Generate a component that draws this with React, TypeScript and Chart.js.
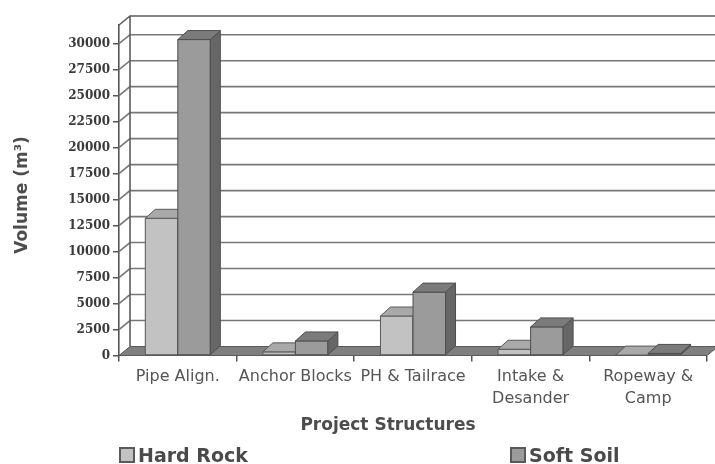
import { useEffect, useRef } from 'react';
import { Chart, registerables } from 'chart.js';

Chart.register(...registerables);

// Excavation volumes per project structure (m³)
const categories: (string | string[])[] = [
  'Pipe Align.',
  'Anchor Blocks',
  'PH & Tailrace',
  ['Intake &', 'Desander'],
  ['Ropeway &', 'Camp'],
];
const hardRock = [13200, 350, 3800, 600, 40];
const softSoil = [30400, 1400, 6100, 2750, 200];
const seriesNames = ['Hard Rock', 'Soft Soil'];
const yTickValues = [0, 2500, 5000, 7500, 10000, 12500, 15000, 17500, 20000, 22500, 25000, 27500, 30000];
const yMax = 31800;

const xTitle = 'Project Structures';
const yTitle = 'Volume (m³)';

// Depth of the 3D box (walls) and of the columns, in pixels
const WALL_DX = 11;
const WALL_DY = -9;
const BAR_DX = 10;
const BAR_DY = -9;

const palette = [
  { front: '#c2c2c2', top: '#a9a9a9', side: '#7c7c7c', edge: '#5a5a5a' },
  { front: '#9b9b9b', top: '#7b7b7b', side: '#666666', edge: '#4f4f4f' },
];

const wallPlugin = {
  id: 'wall3d',
  beforeDatasetsDraw(chart: any) {
    const { ctx, chartArea } = chart;
    const y = chart.scales.y;
    const left = chartArea.left;
    const right = chartArea.right;
    const yTop = y.getPixelForValue(yMax);
    const yZero = y.getPixelForValue(0);
    ctx.save();
    // back wall gridlines
    ctx.strokeStyle = '#777777';
    ctx.lineWidth = 1.6;
    for (const v of yTickValues) {
      if (v === 0) continue;
      const py = y.getPixelForValue(v);
      ctx.beginPath();
      ctx.moveTo(left, py);
      ctx.lineTo(left + WALL_DX, py + WALL_DY);
      ctx.lineTo(right + WALL_DX, py + WALL_DY);
      ctx.stroke();
    }
    // wall outline
    ctx.strokeStyle = '#5c5c5c';
    ctx.lineWidth = 1.6;
    ctx.beginPath();
    ctx.moveTo(left, yTop);
    ctx.lineTo(left + WALL_DX, yTop + WALL_DY);
    ctx.lineTo(right + WALL_DX, yTop + WALL_DY);
    ctx.moveTo(left + WALL_DX, yTop + WALL_DY);
    ctx.lineTo(left + WALL_DX, yZero + WALL_DY);
    ctx.stroke();
    // floor
    ctx.fillStyle = '#7f7f7f';
    ctx.strokeStyle = '#5a5a5a';
    ctx.lineWidth = 1;
    ctx.beginPath();
    ctx.moveTo(left, yZero);
    ctx.lineTo(right, yZero);
    ctx.lineTo(right + WALL_DX, yZero + WALL_DY);
    ctx.lineTo(left + WALL_DX, yZero + WALL_DY);
    ctx.closePath();
    ctx.fill();
    ctx.stroke();
    ctx.restore();
  },
  afterDatasetsDraw(chart: any) {
    const { ctx } = chart;
    const metas = [chart.getDatasetMeta(0), chart.getDatasetMeta(1)];
    ctx.save();
    ctx.lineWidth = 1;
    ctx.lineJoin = 'round';
    const n = categories.length;
    for (let j = 0; j < n; j++) {
      metas.forEach((meta: any, i: number) => {
        const el = meta.data[j];
        if (!el) return;
        const { x, y, base, width } = el.getProps(['x', 'y', 'base', 'width'], true);
        const c = palette[i];
        const l = x - width / 2;
        const r = x + width / 2;
        ctx.strokeStyle = c.edge;
        // front face
        ctx.fillStyle = c.front;
        ctx.beginPath();
        ctx.rect(l, y, width, base - y);
        ctx.fill();
        ctx.stroke();
        // side face
        ctx.fillStyle = c.side;
        ctx.beginPath();
        ctx.moveTo(r, y);
        ctx.lineTo(r + BAR_DX, y + BAR_DY);
        ctx.lineTo(r + BAR_DX, base + BAR_DY);
        ctx.lineTo(r, base);
        ctx.closePath();
        ctx.fill();
        ctx.stroke();
        // top face
        ctx.fillStyle = c.top;
        ctx.beginPath();
        ctx.moveTo(l, y);
        ctx.lineTo(l + BAR_DX, y + BAR_DY);
        ctx.lineTo(r + BAR_DX, y + BAR_DY);
        ctx.lineTo(r, y);
        ctx.closePath();
        ctx.fill();
        ctx.stroke();
      });
    }
    ctx.restore();
  },
  afterDraw(chart: any) {
    const { ctx } = chart;
    ctx.save();
    ctx.fillStyle = '#4d4d4d';
    ctx.textAlign = 'center';
    ctx.textBaseline = 'alphabetic';
    // axis titles
    ctx.font = 'bold 17px "DejaVu Sans"';
    ctx.fillText(xTitle, 388, 430);
    ctx.save();
    ctx.translate(27, 195);
    ctx.rotate(-Math.PI / 2);
    ctx.fillText(yTitle, 0, 0);
    ctx.restore();
    // legend
    const items = [
      { x: 119, c: palette[0] },
      { x: 510, c: palette[1] },
    ];
    ctx.font = 'bold 19px "DejaVu Sans"';
    ctx.textAlign = 'left';
    items.forEach((it, i) => {
      ctx.fillStyle = it.c.front;
      ctx.strokeStyle = '#5a5a5a';
      ctx.lineWidth = 2;
      ctx.fillRect(it.x + 1, 448, 14, 14);
      ctx.strokeRect(it.x + 1, 448, 14, 14);
      ctx.fillStyle = '#4a4a4a';
      ctx.fillText(seriesNames[i], it.x + 19, 462);
    });
    ctx.restore();
  },
};

export default function App() {
  const canvasRef = useRef<HTMLCanvasElement | null>(null);

  useEffect(() => {
    document.body.style.margin = '0';
    const canvas = canvasRef.current;
    if (!canvas) return;
    const chart = new Chart(canvas, {
      type: 'bar',
      data: {
        labels: categories,
        datasets: [
          {
            label: seriesNames[0],
            data: hardRock,
            backgroundColor: palette[0].front,
            borderColor: palette[0].edge,
            borderWidth: 1,
            barPercentage: 1,
            categoryPercentage: 0.553,
          },
          {
            label: seriesNames[1],
            data: softSoil,
            backgroundColor: palette[1].front,
            borderColor: palette[1].edge,
            borderWidth: 1,
            barPercentage: 1,
            categoryPercentage: 0.553,
          },
        ],
      },
      options: {
        responsive: false,
        animation: false,
        layout: { padding: { top: 25, right: 8, left: 0, bottom: 0 } },
        plugins: {
          legend: { display: false },
          tooltip: { enabled: false },
        },
        scales: {
          x: {
            afterFit: (s: any) => {
              s.height = 108.5;
            },
            border: { display: false },
            grid: {
              display: true,
              drawOnChartArea: false,
              drawTicks: true,
              tickLength: 6,
              offset: true,
              color: '#555555',
              lineWidth: 1.5,
            },
            ticks: {
              padding: 4,
              color: '#555555',
              font: { family: '"DejaVu Sans"', size: 16, lineHeight: 1.375 },
              maxRotation: 0,
              autoSkip: false,
            },
          },
          y: {
            min: 0,
            max: yMax,
            afterFit: (s: any) => {
              s.width = 119;
            },
            afterBuildTicks: (s: any) => {
              s.ticks = yTickValues.map((v) => ({ value: v }));
            },
            border: { display: true, color: '#555555', width: 1.6 },
            grid: {
              display: true,
              drawOnChartArea: false,
              drawTicks: true,
              tickLength: 6,
              color: '#555555',
              lineWidth: 1.5,
            },
            ticks: {
              padding: 3,
              color: '#3a3a3a',
              font: { family: '"DejaVu Serif"', size: 12, weight: 'bold' },
              callback: (v: any) => String(v),
            },
          },
        },
      },
      plugins: [wallPlugin],
    });
    return () => chart.destroy();
  }, []);

  return (
    <div style={{ width: 715, height: 464, background: '#ffffff' }}>
      <canvas ref={canvasRef} width={715} height={464} />
    </div>
  );
}
